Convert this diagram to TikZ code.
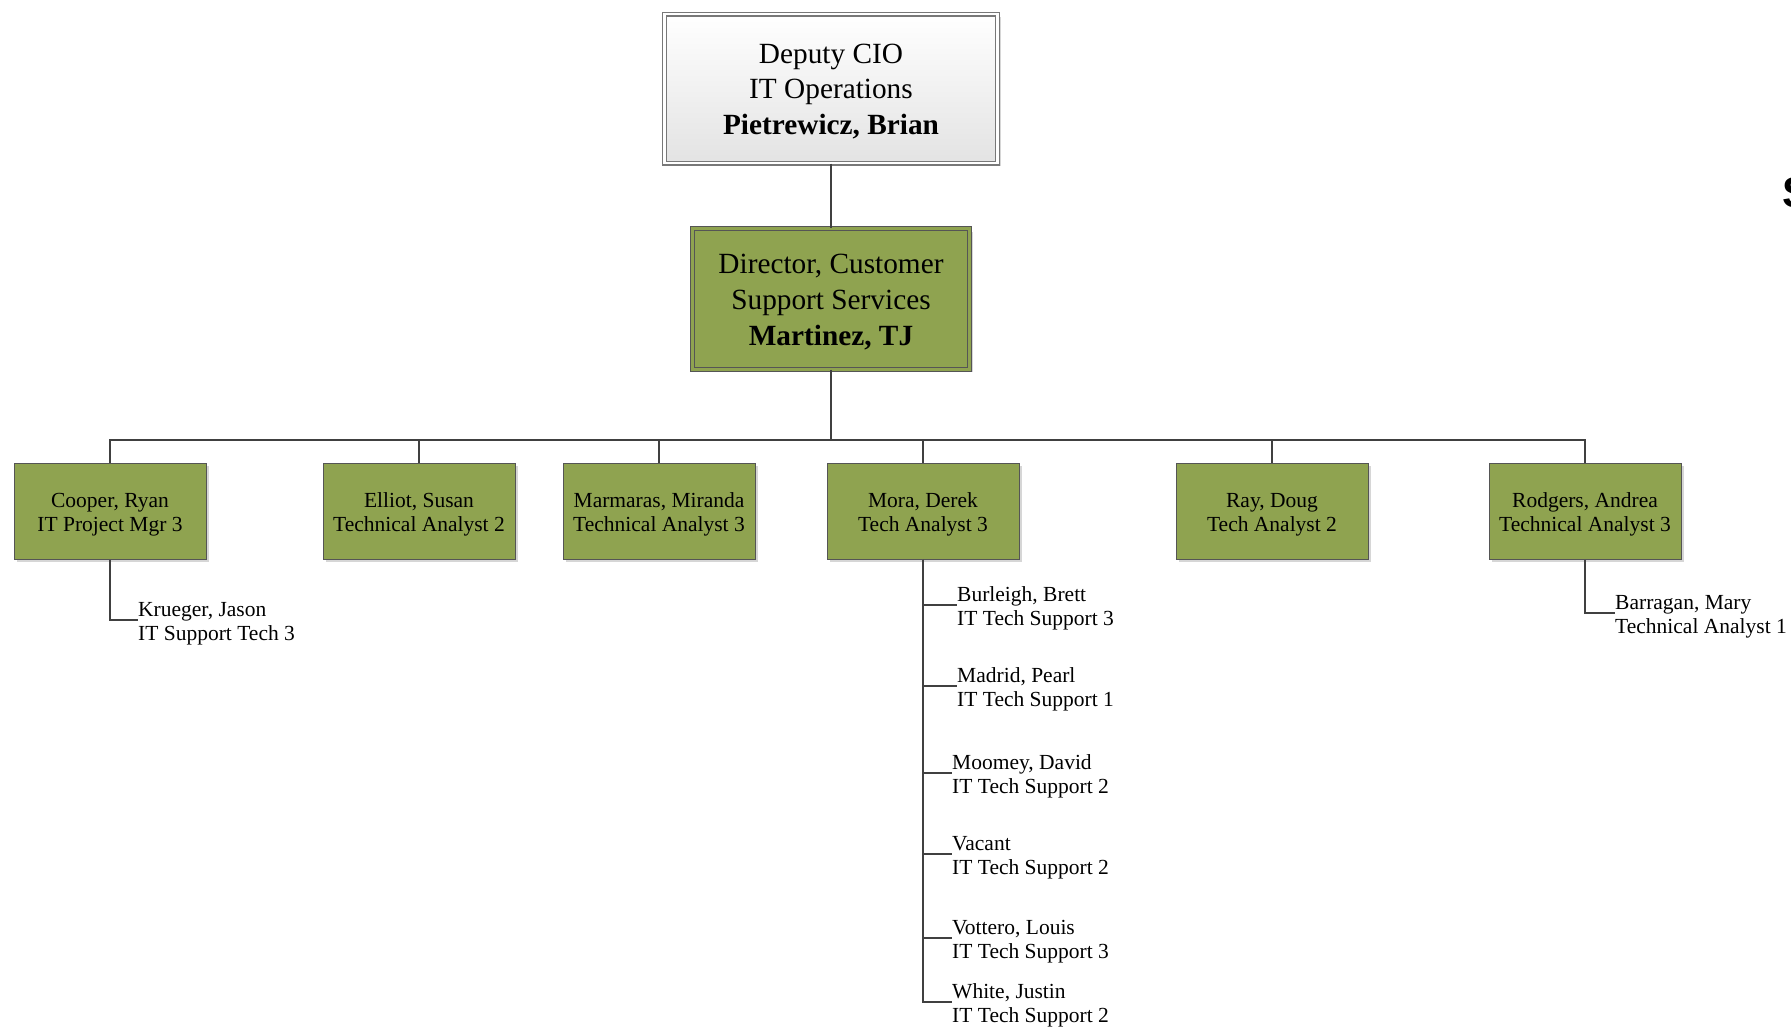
\documentclass[tikz,border=0pt]{standalone}
\usepackage{fontspec}
\setmainfont{Liberation Serif}
\newfontfamily\labelsans{Liberation Sans}
\usetikzlibrary{shadows}
\definecolor{olivebox}{RGB}{143,163,80}
\definecolor{linegray}{RGB}{64,64,64}
\definecolor{bordergray}{RGB}{85,85,85}
\definecolor{topborder}{RGB}{120,120,120}
% invisible rules that lower the text block inside its node
\newcommand\smallpad{\rule{0pt}{21.8pt}}
\newcommand\largepad{\rule{0pt}{25pt}}
\begin{document}
\begin{tikzpicture}[x=1pt,y=-1pt,
  boxshadow/.style={drop shadow={shadow xshift=3pt,shadow yshift=-3pt,fill=black!35,opacity=.45}},
  topbox/.style={rectangle,draw=topborder,line width=1.2pt,double=white,double distance=2.6pt,
    top color=white,bottom color=black!11,minimum width=333pt,minimum height=149pt,
    align=center,inner sep=0pt,boxshadow,font=\fontsize{29.3}{35.6}\selectfont},
  dirbox/.style={rectangle,draw=bordergray,line width=1.2pt,double=olivebox,double distance=2.6pt,
    fill=olivebox,minimum width=277.5pt,minimum height=140.5pt,
    align=center,inner sep=0pt,boxshadow,font=\fontsize{29.3}{35.8}\selectfont},
  staffbox/.style={rectangle,draw=bordergray,line width=1pt,fill=olivebox,
    minimum width=192pt,minimum height=96pt,align=center,inner sep=0pt,boxshadow,
    font=\fontsize{21.5}{24.5}\selectfont},
  subtxt/.style={anchor=west,inner sep=0pt,align=left,font=\fontsize{21.5}{24.5}\selectfont},
  conn/.style={draw=linegray,line width=2.6pt}]
\fill[white] (0,0) rectangle (1791,1028);
\useasboundingbox (0,0) rectangle (1791,1028);

% top levels
\node[topbox] (cio) at (831,88.5) {\largepad Deputy CIO\\IT Operations\\\textbf{Pietrewicz, Brian}};
\node[dirbox] (dir) at (831,299) {\largepad Director, Customer\\Support Services\\\textbf{Martinez, TJ}};
\coordinate (bus) at (831,440);

% second level
\node[staffbox] (c1) at (110,511) {\smallpad Cooper, Ryan\\IT Project Mgr 3};
\node[staffbox] (c2) at (419,511) {\smallpad Elliot, Susan\\Technical Analyst 2};
\node[staffbox] (c3) at (659,511) {\smallpad Marmaras, Miranda\\Technical Analyst 3};
\node[staffbox] (c4) at (923,511) {\smallpad Mora, Derek\\Tech Analyst 3};
\node[staffbox] (c5) at (1272,511) {\smallpad Ray, Doug\\Tech Analyst 2};
\node[staffbox] (c6) at (1585,511) {\smallpad Rodgers, Andrea\\Technical Analyst 3};

% third level
\node[subtxt] (krueger) at (138,620) {\smallpad Krueger, Jason\\IT Support Tech 3};
\node[subtxt] (burleigh) at (957,605) {\smallpad Burleigh, Brett\\IT Tech Support 3};
\node[subtxt] (madrid) at (957,686) {\smallpad Madrid, Pearl\\IT Tech Support 1};
\node[subtxt] (moomey) at (952,773) {\smallpad Moomey, David\\IT Tech Support 2};
\node[subtxt] (vacant) at (952,854) {\smallpad Vacant\\IT Tech Support 2};
\node[subtxt] (vottero) at (952,938) {\smallpad Vottero, Louis\\IT Tech Support 3};
\node[subtxt] (white) at (952,1002) {\smallpad White, Justin\\IT Tech Support 2};
\node[subtxt] (barragan) at (1615,613) {\smallpad Barragan, Mary\\Technical Analyst 1};

% clipped heading letter at right edge
\node[anchor=west,inner sep=0pt,font=\labelsans\bfseries\fontsize{43}{43}\selectfont] (sfrag) at (1782,193) {S};

% connectors
\draw[conn] (cio.south) -- (dir.north);
\draw[conn] (dir.south) -- (bus);
\foreach \c in {c1,c2,c3,c4,c5,c6} { \draw[conn] (bus) -| (\c.north); }
\draw[conn] (c1.south) |- (krueger.west);
\foreach \s in {burleigh,madrid,moomey,vacant,vottero,white} { \draw[conn] (c4.south) |- (\s.west); }
\draw[conn] (c6.south) |- (barragan.west);
\end{tikzpicture}
\end{document}
